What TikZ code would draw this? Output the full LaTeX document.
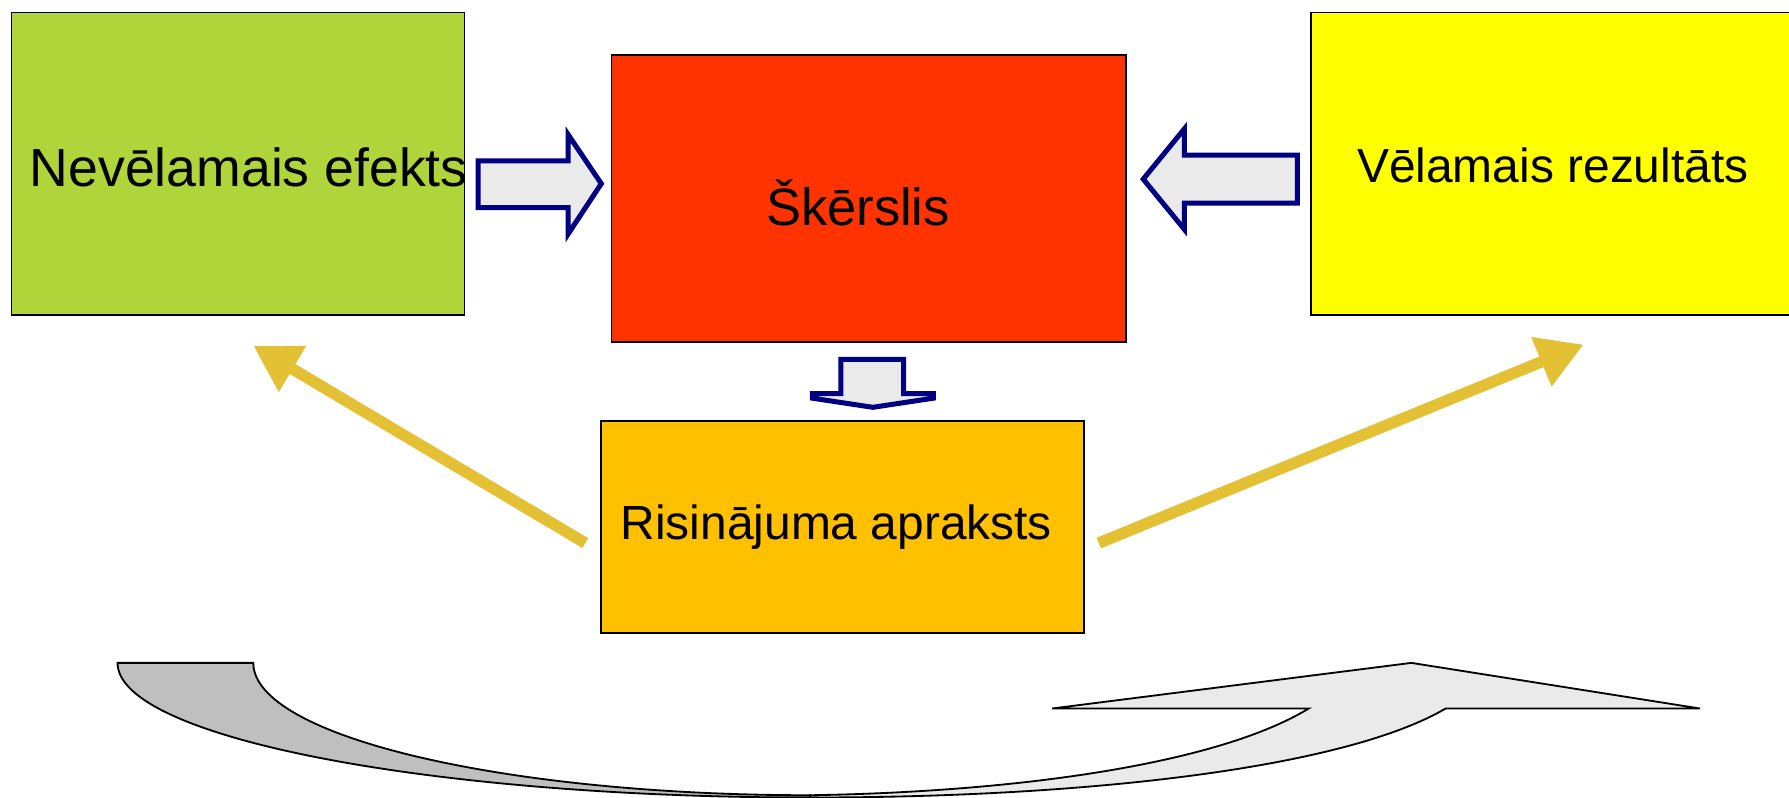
\documentclass[tikz,border=0pt]{standalone}
\usepackage{fontspec}
\setmainfont{Liberation Sans}
\usetikzlibrary{arrows.meta}
\definecolor{cgreen}{HTML}{AFD53A}
\definecolor{cred}{HTML}{FF3300}
\definecolor{cyellow}{HTML}{FFFF00}
\definecolor{corange}{HTML}{FFC000}
\definecolor{cgold}{HTML}{E4C035}
\definecolor{cnavy}{HTML}{000080}
\definecolor{clight}{HTML}{EAEAEA}
\definecolor{cgray}{HTML}{BFBFBF}
\tikzset{
  box/.style={draw=black, line width=0.75pt, inner sep=0pt, text=black},
  blockarrow/.style={draw=cnavy, fill=clight, line width=2.2pt, line join=miter},
  goldarrow/.style={draw=cgold, line width=5pt, -{Triangle[length=20pt,width=22pt]}},
  curvepart/.style={draw=black, line width=0.8pt},
}
\begin{document}
\begin{tikzpicture}[x=0.5pt,y=-0.5pt]
\useasboundingbox (0,0) rectangle (1568,699);
\fill[white] (0,0) rectangle (1568,699);
% boxes
\node[box, fill=cgreen, minimum width=198.5pt, minimum height=132.5pt] (green) at (208.5,143.5) {};
\node[font=\fontsize{23.5}{28}\selectfont] (greent) at (218,147) {Nevēlamais efekts};
\node[box, fill=cred, minimum width=225.5pt, minimum height=126pt] (red) at (761.5,174) {};
\node[font=\fontsize{23}{27}\selectfont] (redt) at (752,178) {Škērslis};
\node[box, fill=cyellow, minimum width=213pt, minimum height=132.5pt] (yellow) at (1362,143.5) {};
\node[font=\fontsize{21}{25}\selectfont] (yellowt) at (1361,145) {Vēlamais rezultāts};
\node[box, fill=corange, minimum width=211.5pt, minimum height=93pt] (orange) at (738.5,462) {};
\node[font=\fontsize{21}{25}\selectfont] (oranget) at (733,462) {Risinājuma apraksts};
% block arrows
\draw[blockarrow] (419,141) -- (498,141) -- (498,118) -- (527,161) -- (498,205) -- (498,182) -- (419,182) -- cycle;
\draw[blockarrow] (1137,136) -- (1038,136) -- (1038,113) -- (1002,157) -- (1038,201) -- (1038,178) -- (1137,178) -- cycle;
\draw[blockarrow] (737,315) -- (792,315) -- (792,345) -- (818,345) -- (818,349) -- (765,357) -- (712,349) -- (712,345) -- (737,345) -- cycle;
% gold arrows
\coordinate (gl1) at (513,476);
\coordinate (gl2) at (222,303);
\coordinate (gr1) at (963,476);
\coordinate (gr2) at (1388,302);
\draw[goldarrow] (gl1) -- (gl2);
\draw[goldarrow] (gr1) -- (gr2);
% bottom curved arrow
\draw[curvepart, fill=cgray] (103,581) -- (222,581) .. controls (222,645) and (440,697) .. (710,697) -- (710,699) .. controls (375,699) and (103,646) .. (103,581) -- cycle;
\draw[curvepart, fill=clight] (710,697) .. controls (900,694) and (1070,668) .. (1147,621) -- (922,621) -- (1237,581) -- (1490,621) -- (1267,621) .. controls (1180,672) and (960,699) .. (710,699) -- cycle;
\end{tikzpicture}
\end{document}
